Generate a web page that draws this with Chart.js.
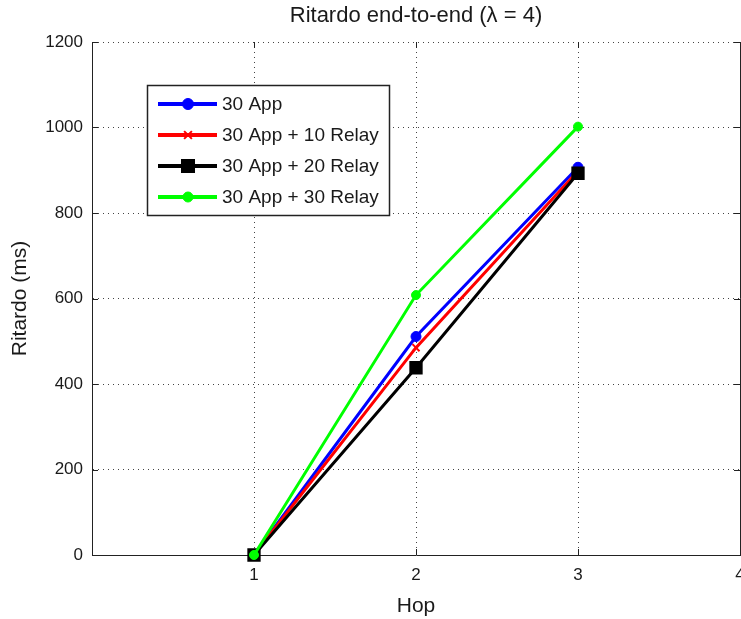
<!DOCTYPE html>
<html><head><meta charset="utf-8">
<script src="https://cdn.jsdelivr.net/npm/chart.js@4.4.1/dist/chart.umd.min.js"></script>
<style>html,body{margin:0;padding:0;background:#fff;}canvas{display:block}</style>
</head><body>
<canvas id="c" width="741" height="619"></canvas>
<script>
const hops = [1, 2, 3];
const seriesLabels = ['30 App', '30 App + 10 Relay', '30 App + 20 Relay', '30 App + 30 Relay'];
const app30 = [0, 511, 907];
const app30relay10 = [0, 485, 898];
const app30relay20 = [0, 438, 893];
const app30relay30 = [0, 608, 1002];
const xTickValues = [0, 1, 2, 3, 4];
const yTickValues = [0, 200, 400, 600, 800, 1000, 1200];
const titleText = 'Ritardo end-to-end (\u03bb = 4)';
const xTitleText = 'Hop';
const yTitleText = 'Ritardo (ms)';

const FONT = "'Liberation Sans', Arial, Helvetica, sans-serif";
const TEXT = '#1a1a1a';
const styles = [
  { color: '#0000ff', pointStyle: 'circle', radius: 5, borderW: 1, order: 4 },
  { color: '#ff0000', pointStyle: 'crossRot', radius: 5, borderW: 2, order: 3 },
  { color: '#000000', pointStyle: 'rect', radius: 8, borderW: 2, order: 2 },
  { color: '#00ff00', pointStyle: 'circle', radius: 4.5, borderW: 1, order: 1 }
];
const seriesValues = [app30, app30relay10, app30relay20, app30relay30];

const datasets = seriesValues.map((vals, i) => ({
  label: seriesLabels[i],
  data: hops.map((h, j) => ({ x: h, y: vals[j] })),
  borderColor: styles[i].color, backgroundColor: styles[i].color, borderWidth: 3,
  pointStyle: styles[i].pointStyle, pointRadius: styles[i].radius, pointBorderWidth: styles[i].borderW,
  pointBackgroundColor: styles[i].color, pointBorderColor: styles[i].color,
  order: styles[i].order, tension: 0, clip: 8
}));

function drawMarker(ctx, style, x, y, r, color, bw) {
  ctx.save();
  ctx.fillStyle = color; ctx.strokeStyle = color; ctx.lineWidth = bw;
  ctx.beginPath();
  if (style === 'circle') {
    ctx.arc(x, y, r, 0, Math.PI * 2); ctx.fill(); ctx.stroke();
  } else if (style === 'rect') {
    const s = r * Math.SQRT1_2;
    ctx.rect(x - s, y - s, 2 * s, 2 * s); ctx.fill(); ctx.stroke();
  } else if (style === 'crossRot') {
    const s = r * Math.SQRT1_2;
    ctx.moveTo(x - s, y - s); ctx.lineTo(x + s, y + s);
    ctx.moveTo(x - s, y + s); ctx.lineTo(x + s, y - s); ctx.stroke();
  }
  ctx.restore();
}

const framePlugin = {
  id: 'frame',
  afterLayout(chart) {
    // MATLAB-style plot box reaching the right edge (last tick label is clipped, as in the reference)
    const R = chart.width - 1;
    const a = chart.chartArea;
    a.right = R; a.width = R - a.left;
    const x = chart.scales.x;
    x.right = R; x.width = R - x.left; x.configure();
    if (chart.titleBlock) { chart.titleBlock.right = R; chart.titleBlock.width = R - chart.titleBlock.left; }
  },
  beforeDatasetsDraw(chart) {
    const { ctx, chartArea: a, scales: { x, y } } = chart;
    ctx.save();
    ctx.strokeStyle = '#222';
    ctx.lineWidth = 1;
    ctx.beginPath();
    ctx.moveTo(a.right + 0.5, a.top); ctx.lineTo(a.right + 0.5, a.bottom + 0.5);
    const L = 6;
    x.ticks.forEach(t => {
      const px = Math.round(x.getPixelForValue(t.value)) + 0.5;
      ctx.moveTo(px, a.bottom); ctx.lineTo(px, a.bottom - L);
      ctx.moveTo(px, a.top); ctx.lineTo(px, a.top + L);
    });
    y.ticks.forEach(t => {
      const py = Math.round(y.getPixelForValue(t.value)) + 0.5;
      ctx.moveTo(a.left, py); ctx.lineTo(a.left + L, py);
      ctx.moveTo(a.right, py); ctx.lineTo(a.right - L, py);
    });
    ctx.stroke();
    ctx.restore();
  },
  afterDraw(chart) {
    const { ctx } = chart;
    const bx = 147.5, by = 85.5, bw = 242, bh = 130;
    ctx.save();
    ctx.fillStyle = '#fff';
    ctx.fillRect(bx, by, bw, bh);
    ctx.strokeStyle = '#222';
    ctx.lineWidth = 1.5;
    ctx.strokeRect(bx, by, bw, bh);
    ctx.font = '19px ' + FONT;
    ctx.textBaseline = 'middle';
    ctx.textAlign = 'left';
    chart.data.datasets.forEach((ds, i) => {
      const yy = 104 + i * 31;
      ctx.strokeStyle = ds.borderColor;
      ctx.lineWidth = 4;
      ctx.beginPath(); ctx.moveTo(158, yy); ctx.lineTo(217, yy); ctx.stroke();
      drawMarker(ctx, ds.pointStyle, 188, yy, ds.pointRadius + 0.5, ds.borderColor, ds.pointBorderWidth);
      ctx.fillStyle = TEXT;
      ctx.fillText(ds.label, 222, yy + 1);
    });
    ctx.restore();
  }
};

new Chart(document.getElementById('c'), {
  type: 'line',
  data: { datasets },
  plugins: [framePlugin],
  options: {
    responsive: false, animation: false, events: [],
    layout: { padding: { left: 0, right: 1, top: 0, bottom: 0 } },
    plugins: {
      legend: { display: false }, tooltip: { enabled: false },
      title: { display: true, fullSize: false, text: titleText, color: TEXT,
        font: { family: FONT, size: 22, weight: 'normal' }, padding: { top: 3, bottom: 12.6 } }
    },
    scales: {
      x: {
        type: 'linear', min: 0, max: 4,
        afterBuildTicks: s => { s.ticks = xTickValues.map(v => ({ value: v })); },
        afterFit: s => { s.height = 64; },
        ticks: { autoSkip: false, maxRotation: 0, padding: 10, color: TEXT, font: { family: FONT, size: 17 },
          callback: v => (v === 0 ? '' : String(v)) },
        grid: { color: '#444', lineWidth: 1, drawTicks: false },
        border: { display: true, color: '#222', width: 1, dash: [1, 4] },
        title: { display: true, text: xTitleText, color: TEXT, font: { family: FONT, size: 21 }, padding: { top: 0, bottom: 0 } }
      },
      y: {
        type: 'linear', min: 0, max: 1200,
        afterBuildTicks: s => { s.ticks = yTickValues.map(v => ({ value: v })); },
        afterFit: s => { s.width = 92; s.paddingTop = 0; s.paddingBottom = 0; },
        ticks: { autoSkip: false, padding: 9, color: TEXT, font: { family: FONT, size: 17 }, callback: v => String(v) },
        grid: { color: '#444', lineWidth: 1, drawTicks: false },
        border: { display: true, color: '#222', width: 1, dash: [1, 4] },
        title: { display: true, text: yTitleText, color: TEXT, font: { family: FONT, size: 21 }, padding: { top: 8, bottom: 0 } }
      }
    }
  }
});
</script>
</body></html>
